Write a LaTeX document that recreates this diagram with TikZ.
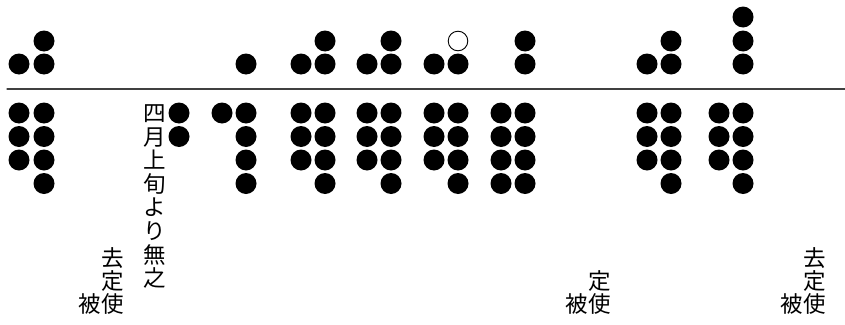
\documentclass[tikz,border=0pt]{standalone}
\usepackage{fontspec}
\newfontfamily\jpfont{Noto Sans CJK JP}
\usetikzlibrary{positioning}

\begin{document}
\begin{tikzpicture}[x=1pt,y=-1pt,line cap=round]
\tikzset{
  hollow/.style={draw=black,line width=0.9pt,fill=white},
  jch/.style={font=\jpfont\fontsize{22.5}{24}\selectfont,inner sep=0pt,
    text height=19.8pt,text depth=2.7pt}
}
\useasboundingbox (0,0) rectangle (845,324);
\draw[line width=1.2pt,black!75] (7,89) -- (845,89);

% above the line
\foreach \x/\y in {44/41,19/64,44/64,246/64,325/41,301/64,325/64,
    391/41,367/64,391/64,434/64,458/64,525/41,525/64,
    671/41,647/64,671/64,743/17,743/41,743/64}
  \fill (\x,\y) circle (10.5);
\draw[hollow] (458,41) circle (9.8);

% below the line: column / number of dots
\foreach \x/\n in {19/3,44/4,179/2,222/1,246/4,301/3,325/4,367/3,391/4,
    434/3,458/4,501/4,525/4,647/3,671/4,719/3,743/4}
  \foreach \r in {1,...,\n}
    \fill (\x,{89.5+23.5*\r}) circle (10.5);

% vertical notes
\foreach \ch [count=\i] in {四,月,上,旬,よ,り,無,之}
  \node[jch] (note\i) at (155,{113+23.6*(\i-1)}) {\ch};

\foreach \ch [count=\i] in {去,定,使}
  \node[jch] (a\i) at (113,{258+23*(\i-1)}) {\ch};
\node[jch,left=0pt of a3] (a4) {被};

\foreach \ch [count=\i] in {定,使}
  \node[jch] (b\i) at (600,{281+23*(\i-1)}) {\ch};
\node[jch,left=0pt of b2] (b3) {被};

\foreach \ch [count=\i] in {去,定,使}
  \node[jch] (c\i) at (815,{258+23*(\i-1)}) {\ch};
\node[jch,left=0pt of c3] (c4) {被};
\end{tikzpicture}
\end{document}
